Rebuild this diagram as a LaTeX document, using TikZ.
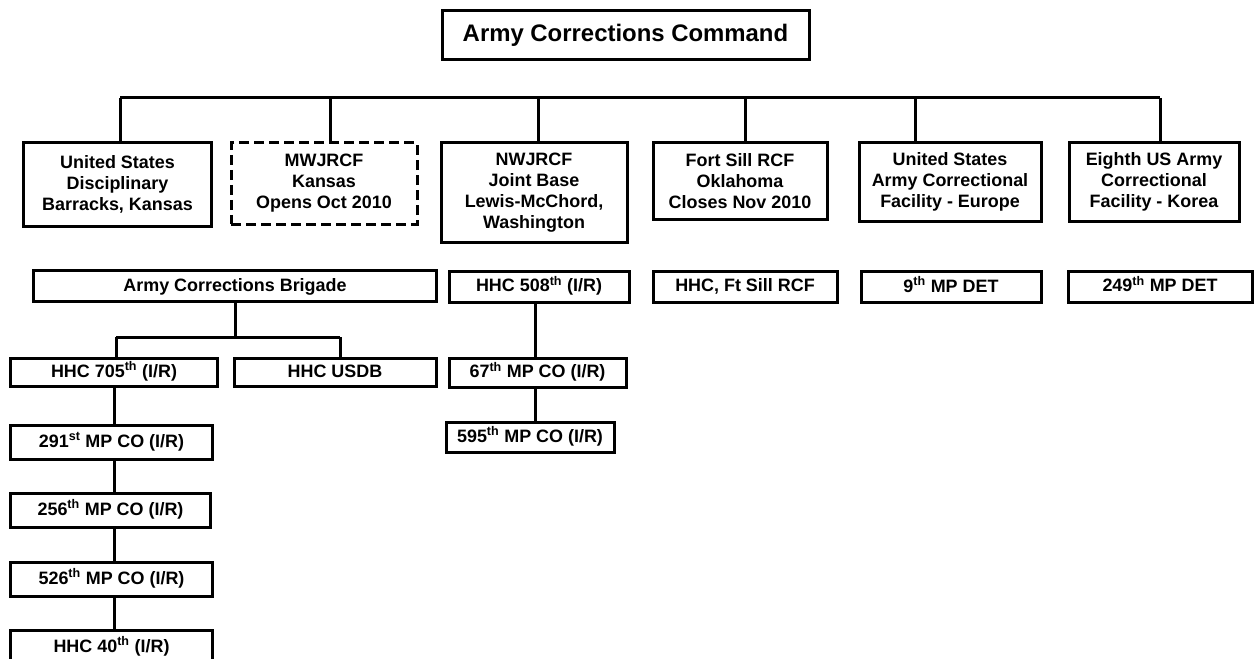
\documentclass[tikz,border=0pt]{standalone}
\usepackage{fontspec}
\setmainfont{Liberation Sans}
\begin{document}
\begin{tikzpicture}[x=1bp,y=-1bp,
  box/.style={draw, line width=3bp, inner sep=0pt, align=center,
    font=\bfseries\fontsize{18}{21}\selectfont},
  dbox/.style={box, dash pattern=on 10bp off 5bp},
  one/.style={box, text height=13bp, text depth=3bp},
  conn/.style={line width=3bp}]
\useasboundingbox (0,0) rectangle (1255,659);
% top
\node[box, minimum width=367bp, minimum height=49bp,
  font=\bfseries\fontsize{24}{28}\selectfont] (cmd) at (625.5,35.5) {Army Corrections Command};
% second row
\node[box, minimum width=187bp, minimum height=83bp] (usdb) at (117.5,184.5) {United States\\Disciplinary\\Barracks, Kansas};
\node[dbox, minimum width=186bp, minimum height=81bp] (mwj) at (324,183.5) {MWJRCF\\Kansas\\Opens Oct 2010};
\node[box, minimum width=186bp, minimum height=99bp] (nwj) at (534,192.5) {NWJRCF\\Joint Base\\Lewis-McChord,\\Washington};
\node[box, minimum width=174bp, minimum height=76bp] (fts) at (740,181) {Fort Sill RCF\\Oklahoma\\Closes Nov 2010};
\node[box, minimum width=182bp, minimum height=78bp] (eur) at (950,182) {United States\\Army Correctional\\Facility - Europe};
\node[box, minimum width=170bp, minimum height=78bp] (kor) at (1154,182) {Eighth US Army\\Correctional\\Facility - Korea};
% third row
\node[one, minimum width=402bp, minimum height=31bp] (brig) at (235,286) {Army Corrections Brigade};
\node[one, minimum width=180bp, minimum height=31bp] (h508) at (539,286.5) {HHC 508\textsuperscript{th} (I/R)};
\node[one, minimum width=184bp, minimum height=31bp] (hfs) at (745,286.5) {HHC, Ft Sill RCF};
\node[one, minimum width=180bp, minimum height=31bp] (d9) at (951,287) {9\textsuperscript{th} MP DET};
\node[one, minimum width=184bp, minimum height=31bp] (d249) at (1160,286.5) {249\textsuperscript{th} MP DET};
% brigade children
\node[one, minimum width=206bp, minimum height=28bp] (h705) at (114,372) {HHC 705\textsuperscript{th} (I/R)};
\node[one, minimum width=202bp, minimum height=28bp] (husdb) at (335,372) {HHC USDB};
\node[one, minimum width=201bp, minimum height=34bp] (m291) at (111.5,442) {291\textsuperscript{st} MP CO (I/R)};
\node[one, minimum width=199bp, minimum height=34bp] (m256) at (110.5,510) {256\textsuperscript{th} MP CO (I/R)};
\node[one, minimum width=201bp, minimum height=34bp] (m526) at (111.5,579) {526\textsuperscript{th} MP CO (I/R)};
\node[one, minimum width=201bp, minimum height=34bp] (h40) at (111.5,647) {HHC 40\textsuperscript{th} (I/R)};
% NWJRCF children
\node[one, minimum width=177bp, minimum height=29bp] (m67) at (537.5,372.5) {67\textsuperscript{th} MP CO (I/R)};
\node[one, minimum width=168bp, minimum height=30bp] (m595) at (530,437) {595\textsuperscript{th} MP CO (I/R)};
% connectors, top bar
\coordinate (t1) at (120,98);
\coordinate (t2) at (330,98);
\coordinate (t3) at (538,98);
\coordinate (t4) at (745,98);
\coordinate (t5) at (915,98);
\coordinate (t6) at (1160,98);
\draw[conn] (t1) -- (t6);
\draw[conn] (t1) -- (t1 |- usdb.north);
\draw[conn] (t2) -- (t2 |- mwj.north);
\draw[conn] (t3) -- (t3 |- nwj.north);
\draw[conn] (t4) -- (t4 |- fts.north);
\draw[conn] (t5) -- (t5 |- eur.north);
\draw[conn] (t6) -- (t6 |- kor.north);
% brigade
\coordinate (bj) at (235,337);
\coordinate (bjl) at (116,337);
\coordinate (bjr) at (340,337);
\draw[conn] (brig.south) -- (bj);
\draw[conn] (bjl) -- (bjr);
\draw[conn] (bjl) -- (bjl |- h705.north);
\draw[conn] (bjr) -- (bjr |- husdb.north);
\coordinate (cx) at (114,0);
\draw[conn] (h705.south -| cx) -- (m291.north -| cx);
\draw[conn] (m291.south -| cx) -- (m256.north -| cx);
\draw[conn] (m256.south -| cx) -- (m526.north -| cx);
\draw[conn] (m526.south -| cx) -- (h40.north -| cx);
% NWJRCF chain
\coordinate (mx) at (535,0);
\draw[conn] (h508.south -| mx) -- (m67.north -| mx);
\draw[conn] (m67.south -| mx) -- (m595.north -| mx);
\end{tikzpicture}
\end{document}
